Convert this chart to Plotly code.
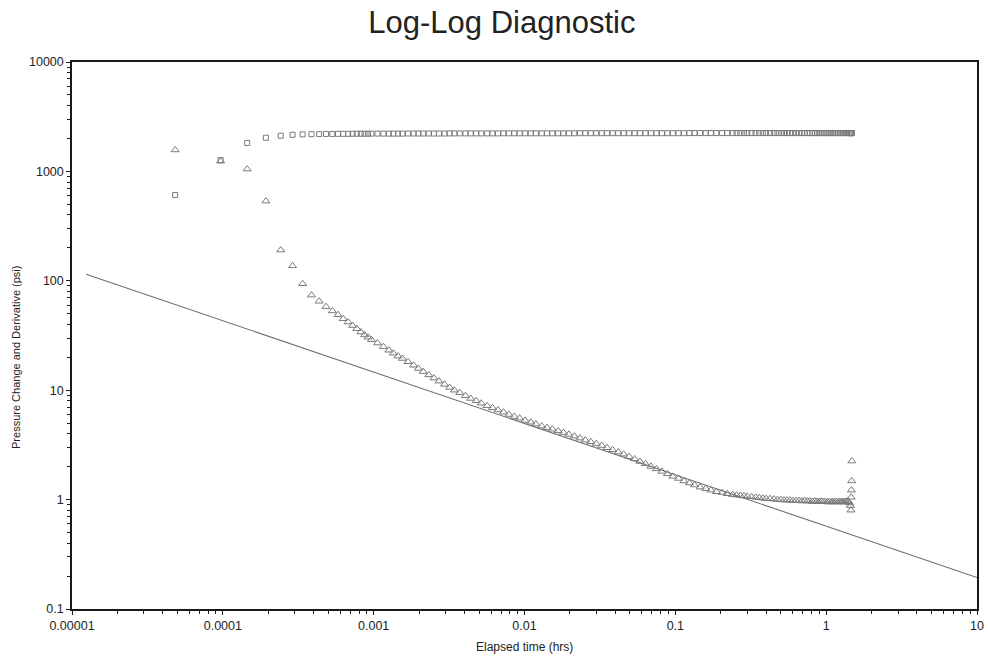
import plotly.graph_objects as go

# Elapsed time of each reading (hrs)
elapsed_hrs = [
    0.0000483, 0.0000967, 0.000145, 0.000193, 0.000242, 0.000290, 0.000338, 0.000387, 0.000435, 0.000483,
    0.000532, 0.000580, 0.000628, 0.000677, 0.000725, 0.000773, 0.000822, 0.000870, 0.000918, 0.000967,
    0.00106, 0.00116, 0.00126, 0.00135, 0.00145, 0.00155, 0.00169, 0.00184, 0.00198, 0.00213,
    0.00232, 0.00251, 0.00271, 0.00295, 0.00319, 0.00343, 0.00372, 0.00406, 0.00440, 0.00478,
    0.00517, 0.00565, 0.00613, 0.00667, 0.00725, 0.00788, 0.00855, 0.00928, 0.0101, 0.0110,
    0.0119, 0.0130, 0.0141, 0.0153, 0.0167, 0.0181, 0.0197, 0.0214, 0.0233, 0.0253,
    0.0275, 0.0299, 0.0325, 0.0353, 0.0384, 0.0418, 0.0454, 0.0494, 0.0537, 0.0583,
    0.0634, 0.0690, 0.0750, 0.0815, 0.0886, 0.0963, 0.105, 0.114, 0.124, 0.134,
    0.146, 0.159, 0.172, 0.187, 0.204, 0.221, 0.240, 0.255, 0.270, 0.285,
    0.300, 0.320, 0.340, 0.360, 0.380, 0.400, 0.425, 0.450, 0.475, 0.500,
    0.525, 0.550, 0.575, 0.600, 0.630, 0.660, 0.690, 0.720, 0.750, 0.780,
    0.810, 0.840, 0.870, 0.900, 0.930, 0.960, 0.990, 1.02, 1.05, 1.08,
    1.11, 1.14, 1.17, 1.20, 1.23, 1.26, 1.29, 1.32, 1.35, 1.38,
    1.41, 1.43, 1.45, 1.46, 1.465, 1.47, 1.475, 1.48,
]

# Pressure change (psi)
pressure_change = [
    608, 1270, 1820, 2030, 2120, 2160, 2180, 2190, 2195, 2200,
    2200, 2205, 2205, 2205, 2210, 2210, 2210, 2210, 2210, 2215,
    2215, 2215, 2215, 2215, 2215, 2215, 2220, 2220, 2220, 2220,
    2220, 2220, 2220, 2220, 2225, 2225, 2225, 2225, 2225, 2225,
    2225, 2225, 2225, 2225, 2230, 2230, 2230, 2230, 2230, 2230,
    2230, 2230, 2230, 2230, 2230, 2230, 2230, 2230, 2235, 2235,
    2235, 2235, 2235, 2235, 2235, 2235, 2235, 2235, 2235, 2235,
    2235, 2235, 2235, 2235, 2235, 2235, 2235, 2235, 2240, 2240,
    2240, 2240, 2240, 2240, 2240, 2240, 2240, 2240, 2240, 2240,
    2240, 2240, 2240, 2240, 2240, 2240, 2240, 2240, 2240, 2240,
    2240, 2240, 2240, 2240, 2240, 2240, 2240, 2240, 2240, 2240,
    2240, 2240, 2240, 2240, 2240, 2240, 2240, 2240, 2240, 2240,
    2240, 2240, 2240, 2240, 2240, 2240, 2240, 2240, 2240, 2240,
    2240, 2240, 2240, 2240, 2240, 2240, 2240, 2240,
]

# Pressure derivative (psi)
pressure_derivative = [
    1570, 1240, 1050, 535, 191, 137, 94, 74, 65, 58,
    53, 49, 45, 42, 39, 36.5, 34, 32, 30.5, 29,
    27, 25, 23.2, 21.8, 20.5, 19.5, 18.2, 16.9, 15.8, 14.8,
    13.8, 12.9, 12.1, 11.3, 10.6, 10.0, 9.5, 8.9, 8.4, 8.0,
    7.6, 7.2, 6.9, 6.6, 6.3, 6.0, 5.75, 5.55, 5.3, 5.1,
    4.9, 4.7, 4.55, 4.4, 4.25, 4.1, 3.95, 3.8, 3.65, 3.5,
    3.38, 3.25, 3.12, 2.98, 2.85, 2.72, 2.6, 2.47, 2.35, 2.23,
    2.12, 2.01, 1.91, 1.81, 1.72, 1.63, 1.56, 1.48, 1.42, 1.36,
    1.30, 1.26, 1.22, 1.18, 1.16, 1.13, 1.11, 1.10, 1.09, 1.08,
    1.07, 1.06, 1.05, 1.04, 1.03, 1.02, 1.02, 1.01, 1.00, 1.00,
    0.99, 0.99, 0.99, 0.98, 0.98, 0.98, 0.97, 0.98, 0.97, 0.97,
    0.96, 0.97, 0.96, 0.96, 0.97, 0.96, 0.96, 0.95, 0.96, 0.95,
    0.96, 0.95, 0.96, 0.95, 0.96, 0.95, 0.96, 0.95, 0.96, 0.97,
    0.95, 0.93, 0.88, 0.80, 1.05, 1.22, 1.48, 2.25,
]

# Straight-line model (end points)
model_time = [0.0000124, 10]
model_pressure = [115, 0.194]

x_tick_vals = [0.00001, 0.0001, 0.001, 0.01, 0.1, 1, 10]
x_tick_text = ["0.00001", "0.0001", "0.001", "0.01", "0.1", "1", "10"]
y_tick_vals = [0.1, 1, 10, 100, 1000, 10000]
y_tick_text = ["0.1", "1", "10", "100", "1000", "10000"]


def minor_ticks(lo_exp, hi_exp):
    vals = []
    for e in range(lo_exp, hi_exp):
        for m in range(2, 10):
            vals.append(m * 10 ** e)
    return vals


text_color = "#222222"
mark_color = "#7a7a7a"

fig = go.Figure()

fig.add_trace(go.Scatter(
    x=model_time, y=model_pressure, mode="lines",
    line=dict(color="#6e6e6e", width=1.1), showlegend=False, hoverinfo="skip",
))

fig.add_trace(go.Scatter(
    x=elapsed_hrs, y=pressure_change, mode="markers", name="Pressure Change",
    marker=dict(symbol="square-open", size=5, color=mark_color, line=dict(width=1)),
    showlegend=False,
))

fig.add_trace(go.Scatter(
    x=elapsed_hrs, y=pressure_derivative, mode="markers", name="Derivative",
    marker=dict(symbol="triangle-up-open", size=7, color=mark_color, line=dict(width=1)),
    showlegend=False,
))

axis_common = dict(
    type="log",
    automargin=False,
    showgrid=False,
    zeroline=False,
    showline=True,
    linecolor="#1a1a1a",
    linewidth=1.5,
    mirror=True,
    ticks="outside",
    ticklen=4,
    tickwidth=1,
    tickcolor="#1a1a1a",
    tickfont=dict(family="Liberation Sans, Arial, sans-serif", size=12.5, color=text_color),
    tickmode="array",
)

fig.update_xaxes(
    **axis_common,
    range=[-5, 1],
    tickvals=x_tick_vals,
    ticktext=x_tick_text,
    minor=dict(tickmode="array", tickvals=minor_ticks(-5, 1), ticks="outside",
               ticklen=3, tickcolor="#1a1a1a", tickwidth=1),
)

fig.update_yaxes(
    **axis_common,
    range=[-1, 4],
    tickvals=y_tick_vals,
    ticktext=y_tick_text,
    minor=dict(tickmode="array", tickvals=minor_ticks(-1, 4), ticks="outside",
               ticklen=3, tickcolor="#1a1a1a", tickwidth=1),
)

fig.update_layout(
    width=988,
    height=658,
    autosize=False,
    paper_bgcolor="white",
    plot_bgcolor="white",
    margin=dict(l=72, r=11, t=62, b=49),
    font=dict(family="Liberation Sans, Arial, sans-serif", color=text_color),
    title=dict(
        text="Log-Log Diagnostic",
        x=0.508, xanchor="center", xref="container",
        y=0.966, yanchor="middle", yref="container",
        font=dict(size=31, color=text_color),
    ),
    annotations=[
        dict(text="Elapsed time (hrs)", xref="paper", yref="paper",
             x=0.5, y=-0.0695, xanchor="center", yanchor="middle", showarrow=False,
             font=dict(size=12, color=text_color)),
        dict(text="Pressure Change and Derivative (psi)", xref="paper", yref="paper",
             x=-0.053, y=0.459, xanchor="right", yanchor="middle", textangle=-90,
             showarrow=False, font=dict(size=11, color=text_color)),
    ],
)

fig.write_html("out.html")
